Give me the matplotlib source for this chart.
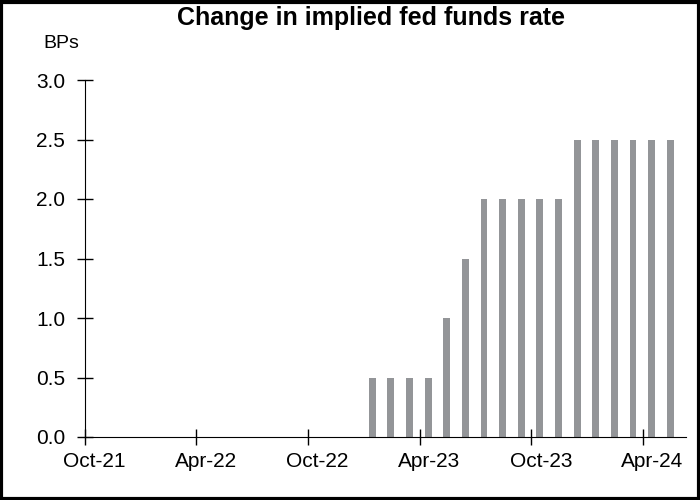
import numpy as np
import matplotlib.pyplot as plt
from matplotlib.patches import Rectangle

plt.rcParams['font.family'] = ['Liberation Sans', 'DejaVu Sans']

# months counted from Oct-21 (index 0)
months = ["Jan-23", "Feb-23", "Mar-23", "Apr-23", "May-23", "Jun-23", "Jul-23",
          "Aug-23", "Sep-23", "Oct-23", "Nov-23", "Dec-23", "Jan-24", "Feb-24",
          "Mar-24", "Apr-24", "May-24"]
month_index = np.arange(15, 32)
values = [0.5, 0.5, 0.5, 0.5, 1.0, 1.5, 2.0, 2.0, 2.0, 2.0, 2.0,
          2.5, 2.5, 2.5, 2.5, 2.5, 2.5]

tick_pos = [0, 6, 12, 18, 24, 30]
tick_labels = ["Oct-21", "Apr-22", "Oct-22", "Apr-23", "Oct-23", "Apr-24"]

fig = plt.figure(figsize=(7, 5), dpi=100)
ax = fig.add_axes([0.121, 0.126, 0.859, 0.714])

# bars sit mid-month
ax.bar(month_index + 0.45, values, width=0.37, color='#939598')

ax.set_xlim(0, 32.3)
ax.set_ylim(0, 3.0)
ax.set_yticks(np.arange(0, 3.01, 0.5))
ax.set_yticklabels([f"{v:.1f}" for v in np.arange(0, 3.01, 0.5)])

# tick marks at month start, labels centred on the month
ax.set_xticks(tick_pos)
ax.set_xticklabels([])
ax.set_xticks([p + 0.5 for p in tick_pos], minor=True)
ax.set_xticklabels(tick_labels, minor=True)
ax.tick_params(axis='x', which='minor', length=0, labelsize=15, pad=11)

ax.spines['top'].set_visible(False)
ax.spines['right'].set_visible(False)
ax.tick_params(axis='both', which='major', direction='inout', length=12, width=1,
               labelsize=15, colors='black')
ax.tick_params(axis='y', pad=8)

fig.text(0.53, 0.963, "Change in implied fed funds rate", ha='center', va='center',
         fontsize=18, fontweight='bold')
fig.text(0.087, 0.912, "BPs", ha='center', va='center', fontsize=14)

# outer frame
fig.patches.append(Rectangle((0.002, 0.003), 0.996, 0.994, transform=fig.transFigure,
                             fill=False, edgecolor='black', linewidth=3))

fig.savefig('out.png', dpi=100)
